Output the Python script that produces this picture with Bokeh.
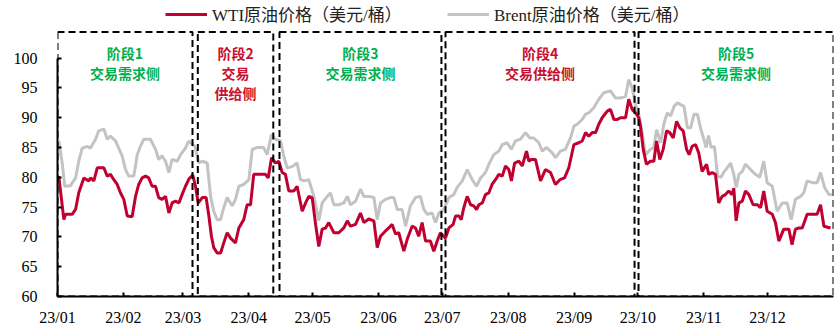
import pandas as pd
from bokeh.plotting import figure
from bokeh.models import (Range1d, FixedTicker, DatetimeTickFormatter, Legend,
                          LegendItem, ColumnDataSource)
from bokeh.core.properties import value
from bokeh.embed import file_html
from bokeh.resources import INLINE

# ---- data: daily crude prices in 2023 (days counted from 2023-01-01, USD/bbl) ----
wti_day = [0.6, 3.0, 3.8, 6.9, 8.5, 10.0, 12.4, 14.7, 15.5, 17.1, 18.7, 21.8, 23.4, 24.9,
           26.5, 28.1, 29.6, 31.2, 32.8, 35.1, 36.7, 38.2, 39.8, 41.4, 42.9, 44.5, 46.1,
           47.6, 49.2, 50.8, 52.4, 53.9, 55.5, 57.1, 58.6, 60.2, 61.8,
           63.6, 64.9, 66.2, 68.1, 69.9, 71.2, 72.4, 73.5, 75.1, 76.7, 78.2, 79.8, 81.4,
           83.7, 85.3, 87.6, 89.2, 90.8, 92.3, 97.8, 99.1, 100.7, 102.5, 104.1, 105.7,
           107.2, 108.8, 111.1, 112.7, 115.1, 116.7, 118.2, 119.8, 121.4,
           122.9, 124.5, 126.1, 127.6, 130.0, 132.3, 134.7, 136.3, 137.8, 140.2, 142.5,
           144.1, 146.4, 148.8, 150.4, 151.9, 154.3, 155.8, 157.4, 159.0, 160.5, 162.9,
           164.5, 166.8, 168.4, 169.9, 171.5, 173.1, 175.4, 177.0, 178.6, 180.1,
           182.5, 184.1, 186.1, 187.2, 188.8, 189.9, 191.1, 192.7, 194.3, 195.8, 197.1,
           198.2, 199.8, 201.3, 202.9, 204.4, 206.0, 207.6, 209.2, 210.7, 212.3, 213.5,
           215.0, 217.0, 218.6, 220.6, 221.7, 222.8, 224.8, 227.2, 229.5, 231.9, 234.2,
           236.3, 238.5, 240.5,
           242.9, 245.2, 246.8, 248.4, 249.9, 251.5, 253.1, 254.6, 256.2, 258.6, 260.1,
           261.7, 263.3, 264.8, 267.2, 268.7, 270.3, 271.9, 273.4, 274.2, 275.5, 277.0,
           278.9, 280.5, 281.8, 283.3, 284.9, 286.5, 288.0, 289.6, 291.2, 292.7, 294.3,
           295.9, 297.1, 298.5, 300.1, 301.6, 303.2,
           305.3, 306.3, 307.9, 309.5, 311.0, 312.6, 314.2, 315.7, 317.3, 318.1, 319.2,
           320.5, 322.1, 323.6, 325.2, 327.2, 329.1, 330.7, 332.2, 333.8, 336.2, 337.7,
           339.3, 341.6, 344.0, 345.5, 347.1, 348.7, 350.3, 352.6, 355.0, 357.3, 358.9,
           360.5, 363.6]
wti_price = [80.2, 72.9, 73.8, 73.8, 74.6, 77.4, 79.9, 79.4, 79.9, 79.4, 81.6, 81.6, 80.2, 80.5,
             79.6, 78.8, 77.4, 76.3, 73.5, 73.4, 76.8, 78.8, 79.9, 80.2, 79.9, 78.5, 78.5,
             76.6, 76.3, 76.8, 74.0, 75.7, 76.0, 75.7, 77.1, 78.5, 79.7,
             80.4, 78.5, 75.7, 76.6, 76.6, 73.5, 70.1, 68.2, 67.3, 67.3, 69.0, 70.7, 69.8,
             69.0, 71.5, 72.9, 75.4, 75.4, 80.5, 80.5, 79.9, 83.3, 82.4, 82.7, 80.8,
             80.5, 77.7, 77.7, 78.5, 74.3, 75.7, 76.8, 76.6, 72.1,
             68.4, 71.3, 71.5, 72.4, 70.7, 70.7, 71.5, 72.7, 71.8, 72.1, 74.0,
             72.4, 73.0, 72.7, 68.2, 70.1, 71.0, 71.5, 72.1, 70.5, 70.7, 67.6,
             69.6, 71.8, 71.5, 70.1, 72.4, 69.3, 69.3, 67.6, 69.3, 70.7,
             69.8, 71.5, 72.1, 73.5, 73.5, 72.9, 74.9, 76.8, 75.4, 75.2, 74.6,
             75.4, 75.7, 77.1, 77.4, 78.8, 79.6, 80.5, 80.2, 81.9, 81.3, 79.4,
             82.4, 82.7, 81.9, 84.4, 82.7, 83.0, 83.0, 79.4, 81.3, 80.8, 78.8,
             79.6, 79.9, 81.6,
             85.5, 85.8, 86.1, 87.5, 86.9, 87.5, 87.5, 88.9, 90.0, 91.1, 91.4,
             89.7, 89.7, 90.0, 90.0, 93.1, 91.4, 90.8, 90.0, 88.6, 84.7, 82.2,
             82.7, 82.7, 86.1, 83.0, 84.7, 87.8, 87.5, 86.6, 89.4, 88.3, 87.8,
             84.7, 83.8, 85.2, 85.5, 84.1, 81.0,
             82.2, 80.5, 80.8, 80.5, 75.7, 76.8, 77.1, 77.7, 77.1, 78.2, 72.7,
             75.7, 76.0, 77.7, 77.1, 75.4, 75.4, 74.9, 77.7, 74.3, 73.8, 72.4,
             69.3, 71.3, 71.3, 68.7, 71.3, 71.5, 71.5, 73.8, 73.8, 73.8, 75.4,
             71.8, 71.5]

brent_day = [0.6, 2.2, 3.4, 6.1, 8.5, 10.0, 11.6, 14.0, 15.5, 17.9, 19.4, 21.8, 23.4, 24.9,
             27.3, 28.8, 30.4, 32.0, 33.5, 35.9, 37.5, 39.0, 40.6, 43.7, 46.1, 47.6, 49.2,
             50.8, 52.4, 53.9, 56.3, 57.9, 60.2, 61.8,
             62.6, 64.6, 66.5, 68.1, 70.4, 72.0, 73.5, 75.1, 76.7, 78.2, 79.8, 82.2, 83.7,
             85.3, 87.6, 90.0, 91.6, 93.9, 97.0, 98.6, 100.7, 102.5, 104.9, 106.4, 108.0,
             110.4, 112.7, 114.3, 115.9, 118.2, 120.6,
             122.9, 124.5, 126.9, 128.4, 130.0, 132.3, 134.7, 136.3, 137.8, 140.2, 142.5,
             144.1, 146.4, 148.8, 150.4, 151.9, 154.3, 156.6, 158.2, 159.8, 162.1, 163.7,
             166.0, 168.4, 170.7, 172.3, 173.9, 176.2, 177.8, 179.4, 181.7,
             184.1, 186.4, 188.0, 190.4, 192.7, 195.1, 197.1, 199.0, 201.3, 202.9, 205.2,
             207.6, 209.2, 211.5, 213.5, 215.4, 217.8, 220.1, 222.2, 224.0, 226.4, 228.0,
             230.0, 232.7, 234.2, 236.6, 238.9, 241.3,
             242.9, 244.4, 246.8, 248.4, 249.9, 252.3, 254.6, 257.0, 260.1, 262.5, 264.8,
             267.2, 268.7, 270.3, 271.9, 273.4, 275.0, 276.6, 278.9, 280.5, 281.8, 283.7,
             285.3, 286.8, 288.4, 290.0, 291.6, 293.1, 294.7, 296.3, 297.8, 299.4, 301.0,
             302.5,
             304.0, 305.1, 306.2, 307.4, 309.0, 310.5, 312.1, 313.7, 315.0, 316.6, 318.1,
             319.2, 320.5, 322.1, 323.6, 326.0, 328.3, 330.3, 332.2, 333.8, 336.2, 338.5,
             340.9, 343.2, 345.1, 347.1, 349.5, 351.0, 352.6, 355.0, 357.3, 358.9, 360.8,
             362.8, 364.2]
brent_price = [86.1, 82.4, 78.5, 78.6, 79.9, 82.7, 84.9, 85.2, 84.9, 86.4, 87.8, 88.1, 86.4, 86.9,
               86.1, 84.9, 83.6, 81.3, 80.2, 80.2, 83.8, 85.2, 86.4, 86.4, 84.7, 83.0, 83.6,
               82.7, 80.8, 83.0, 82.7, 83.8, 84.9, 86.1,
               85.8, 85.2, 82.4, 82.7, 82.4, 76.8, 74.3, 72.9, 72.9, 74.9, 76.6, 75.2, 76.3,
               78.5, 78.8, 79.6, 84.7, 85.0, 85.0, 83.8, 87.2, 86.4, 86.1, 83.6, 81.6,
               81.8, 82.4, 79.6, 79.4, 79.6, 76.8,
               72.7, 75.7, 76.8, 77.4, 75.4, 75.4, 75.7, 76.8, 75.4, 76.0, 78.0,
               76.8, 76.8, 76.6, 72.9, 75.7, 76.3, 76.6, 76.6, 74.6, 74.6, 71.8,
               75.2, 76.6, 76.8, 74.6, 73.8, 74.0, 72.4, 74.0, 74.6,
               76.6, 77.1, 78.3, 79.4, 81.3, 79.6, 78.5, 79.9, 80.8, 82.2, 83.8,
               84.4, 85.5, 85.8, 84.7, 86.1, 86.4, 87.5, 86.6, 86.6, 85.8, 84.4,
               85.0, 84.1, 83.3, 84.4, 84.7, 86.6,
               88.6, 88.9, 89.7, 90.6, 90.8, 91.7, 93.1, 94.2, 94.5, 93.3, 93.3,
               93.6, 96.4, 95.0, 92.2, 90.6, 87.5, 83.8, 84.7, 85.0, 88.0, 85.8,
               89.1, 90.8, 90.3, 91.9, 92.5, 92.2, 91.9, 88.3, 88.3, 90.6, 90.6,
               88.2,
               86.4, 85.0, 87.0, 85.0, 85.2, 80.2, 80.0, 81.0, 81.6, 82.4, 80.5,
               78.3, 80.5, 81.0, 82.2, 81.3, 80.5, 80.0, 82.7, 79.1, 78.5, 74.3,
               75.7, 75.7, 72.9, 76.3, 76.8, 77.4, 79.4, 79.1, 79.1, 80.8, 78.3,
               77.1, 77.1]

# ---- trading phases ----
phase_start = ["2023-01-01 00:00", "2023-03-08 00:00", "2023-04-15 10:00", "2023-07-02 12:00", "2023-10-01 07:00"]
phase_end = ["2023-03-05 12:00", "2023-04-12 12:00", "2023-06-30 14:00", "2023-09-29 10:00", "2024-01-01 00:00"]
phase_title = ["阶段1", "阶段2", "阶段3", "阶段4", "阶段5"]
phase_desc = [["交易需求侧"], ["交易", "供给侧"], ["交易需求侧"], ["交易供给侧"], ["交易需求侧"]]
phase_top = 104.4

month_ticks = pd.date_range("2023-01-01", "2023-12-01", freq="MS")

RED = "#C8102E"
GREEN = "#00B050"
WTI_COLOR = "#C00030"
BRENT_COLOR = "#C3C3C3"
SERIF = "'Liberation Serif', 'Noto Sans CJK SC', serif"

base = pd.Timestamp("2023-01-01")
wti_src = ColumnDataSource(dict(date=base + pd.to_timedelta(wti_day, unit="D"), price=wti_price))
brent_src = ColumnDataSource(dict(date=base + pd.to_timedelta(brent_day, unit="D"), price=brent_price))

p = figure(width=839, height=329, x_axis_type="datetime",
           x_range=Range1d(pd.Timestamp("2023-01-01"), pd.Timestamp("2024-01-01")),
           y_range=Range1d(60, 109),
           output_backend="svg", toolbar_location=None,
           min_border_left=57, min_border_right=6, min_border_top=4, min_border_bottom=33)
p.outline_line_color = None
p.grid.visible = False
p.background_fill_color = "white"
p.border_fill_color = "white"

brent_r = p.line("date", "price", source=brent_src, line_color=BRENT_COLOR, line_width=3)
wti_r = p.line("date", "price", source=wti_src, line_color=WTI_COLOR, line_width=3)

# dashed phase boxes
ps = pd.to_datetime(phase_start, format="%Y-%m-%d %H:%M")
pe = pd.to_datetime(phase_end, format="%Y-%m-%d %H:%M")
p.quad(left=ps, right=pe, bottom=60, top=phase_top, fill_alpha=0,
       line_color="black", line_width=2, line_dash="7 4")

# phase annotations
centers = ps + (pe - ps) / 2
tx, ty, tt, tc, toff = [], [], [], [], []
for c, title, desc in zip(centers, phase_title, phase_desc):
    color = RED if "供给" in desc[-1] else GREEN
    rows = [title] + desc
    for i, row in enumerate(rows):
        tx.append(c)
        ty.append(phase_top)
        tt.append(row)
        tc.append(color)
        toff.append(21 + 20 * i)
p.text(x=tx, y=ty, text=tt, text_color=tc, y_offset=toff,
       text_font=value("Noto Sans CJK SC"), text_font_style="bold",
       text_font_size="14px", text_align="center", text_baseline="middle")

# axes
yax = p.yaxis[0]
yax.ticker = FixedTicker(ticks=list(range(60, 101, 5)))
yax.bounds = (60, 100)
xax = p.xaxis[0]
xax.ticker = FixedTicker(ticks=[t.value // 10**6 for t in month_ticks])
fmt = "%y/%m"
xax.formatter = DatetimeTickFormatter(days=fmt, months=fmt, years=fmt, hours=fmt,
                                      minutes=fmt, seconds=fmt, milliseconds=fmt,
                                      microseconds=fmt, hourmin=fmt, minsec=fmt)
for ax in (xax, yax):
    ax.axis_line_color = "black"
    ax.axis_line_width = 2
    ax.major_tick_line_color = "black"
    ax.major_tick_line_width = 2
    ax.major_tick_in = 4
    ax.major_tick_out = 0
    ax.minor_tick_line_color = None
    ax.major_label_text_font = SERIF
    ax.major_label_text_font_size = "16px"
    ax.major_label_text_color = "black"
xax.major_label_standoff = 12
yax.major_label_standoff = 20

# legend
for label, rend, xpos in [("WTI原油价格（美元/桶）", wti_r, 108),
                          ("Brent原油价格（美元/桶）", brent_r, 390)]:
    lg = Legend(items=[LegendItem(label=label, renderers=[rend])],
                location=(xpos, 270), orientation="horizontal",
                padding=0, margin=0, spacing=0, glyph_width=42, glyph_height=16,
                label_standoff=5, border_line_color=None, background_fill_alpha=0,
                label_text_font=SERIF, label_text_font_size="17px",
                label_text_color="#222222")
    p.add_layout(lg)

with open("out.html", "w") as f:
    f.write(file_html(p, INLINE))
